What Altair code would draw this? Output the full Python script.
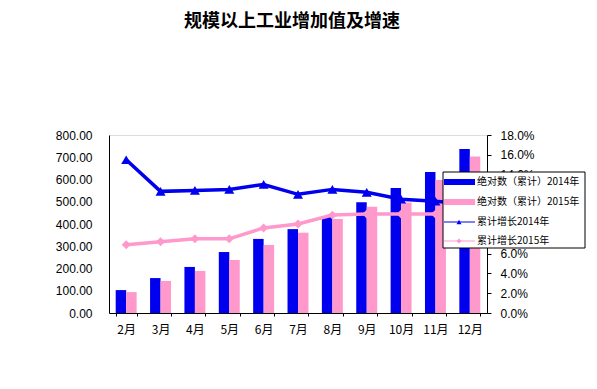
import altair as alt
import pandas as pd

months = ["2月", "3月", "4月", "5月", "6月", "7月", "8月", "9月", "10月", "11月", "12月"]
abs_2014 = [103, 157, 207, 274, 333, 377, 435, 498, 562, 634, 737]
abs_2015 = [94, 144, 189, 238, 306, 361, 422, 478, 497, 598, 703]
growth_2014 = [15.5, 12.3, 12.4, 12.5, 13.0, 12.0, 12.5, 12.2, 11.5, 11.3, 11.0]
growth_2015 = [6.9, 7.2, 7.5, 7.5, 8.6, 9.0, 9.9, 10.0, 10.0, 10.0, 10.0]
series_names = ["绝对数（累计）2014年", "绝对数（累计）2015年", "累计增长2014年", "累计增长2015年"]
left_ticks = [0, 100, 200, 300, 400, 500, 600, 700, 800]
right_ticks = [0, 2, 4, 6, 8, 10, 12, 14, 16, 18]

BLUE = "#0000EE"
PINK = "#FF99CC"
FONT = "Noto Sans CJK SC"
NUMFONT = "Liberation Sans"

bars_df = pd.DataFrame({
    "month": months * 2,
    "value": abs_2014 + abs_2015,
    "series": [series_names[0]] * len(months) + [series_names[1]] * len(months),
})
g14_df = pd.DataFrame({"month": months, "g": growth_2014})
g15_df = pd.DataFrame({"month": months, "g": growth_2015})

xscale = alt.Scale(domain=months, paddingInner=0.39, paddingOuter=0.195)
xenc = alt.X("month:N", sort=months, scale=xscale, title=None,
             axis=alt.Axis(labelAngle=0, labelFont=FONT, labelFontSize=12, labelColor="#000",
                           domainColor="#000", tickColor="#000", tickBand="extent", tickSize=3,
                           labelPadding=8))

bars = alt.Chart(bars_df).mark_bar().encode(
    x=xenc,
    xOffset=alt.XOffset("series:N", sort=series_names[:2], scale=alt.Scale(paddingInner=0, paddingOuter=0)),
    y=alt.Y("value:Q", scale=alt.Scale(domain=[0, 800]), title=None,
            axis=alt.Axis(values=left_ticks, format=".2f", labelFont=NUMFONT, labelFontSize=12,
                          labelColor="#000", domainColor="#000", tickSize=0, labelPadding=17,
                          grid=False)),
    color=alt.Color("series:N", scale=alt.Scale(domain=series_names[:2], range=[BLUE, PINK]), legend=None),
)

yright = alt.Y("g:Q", scale=alt.Scale(domain=[0, 18]), title=None,
               axis=alt.Axis(orient="right", values=right_ticks,
                             labelExpr="format(datum.value, '.1f') + '%'",
                             labelFont=NUMFONT, labelFontSize=12, labelColor="#000",
                             domainColor="#000", tickColor="#000", tickSize=4, labelPadding=9,
                             grid=False))

l14 = alt.Chart(g14_df).mark_line(color=BLUE, strokeWidth=3.5, point=alt.OverlayMarkDef(
    shape="triangle-up", size=100, color=BLUE, filled=True, opacity=1)).encode(
    x=alt.X("month:N", sort=months), y=yright)
l15 = alt.Chart(g15_df).mark_line(color=PINK, strokeWidth=3.5, point=alt.OverlayMarkDef(
    shape="diamond", size=80, color=PINK, filled=True, opacity=1)).encode(
    x=alt.X("month:N", sort=months), y=yright)
lines = alt.layer(l14, l15)

one = pd.DataFrame({"a": [0]})
legend_layers = [
    alt.Chart(one).mark_rect(fill="white", stroke="#000", strokeWidth=1).encode(
        x=alt.value(334), x2=alt.value(476), y=alt.value(37), y2=alt.value(113))
]
row_y = [47, 67, 87, 106]
for i, name in enumerate(series_names):
    yy = row_y[i]
    if i < 2:
        col = BLUE if i == 0 else PINK
        legend_layers.append(alt.Chart(one).mark_rect(fill=col).encode(
            x=alt.value(335), x2=alt.value(366), y=alt.value(yy - 3), y2=alt.value(yy + 3)))
    else:
        col = BLUE if i == 2 else PINK
        legend_layers.append(alt.Chart(one).mark_rule(color=col, strokeWidth=1).encode(
            x=alt.value(335), x2=alt.value(366), y=alt.value(yy)))
        legend_layers.append(alt.Chart(one).mark_point(
            shape="triangle-up" if i == 2 else "diamond", size=25, filled=True, color=col, opacity=1).encode(
            x=alt.value(350), y=alt.value(yy)))
    legend_layers.append(alt.Chart(one).mark_text(
        text=name, align="left", baseline="middle", font=FONT, fontSize=10, color="#000").encode(
        x=alt.value(368), y=alt.value(yy)))

legend = alt.layer(*legend_layers)

chart = alt.layer(bars, lines, legend).resolve_scale(y="independent").properties(
    width=378, height=178,
    title=alt.TitleParams("规模以上工业增加值及增速", font=FONT, fontSize=18, fontWeight="bold",
                          color="#000", anchor="middle", offset=98, dx=-6),
    autosize=alt.AutoSizeParams(type="none"),
    padding={"left": 101, "top": 127, "right": 100, "bottom": 60},
).configure_view(stroke="#999", strokeDash=[1, 2], strokeWidth=1).configure(background="white")

chart.save("out.html", embed_options={"renderer": "svg", "actions": False})
